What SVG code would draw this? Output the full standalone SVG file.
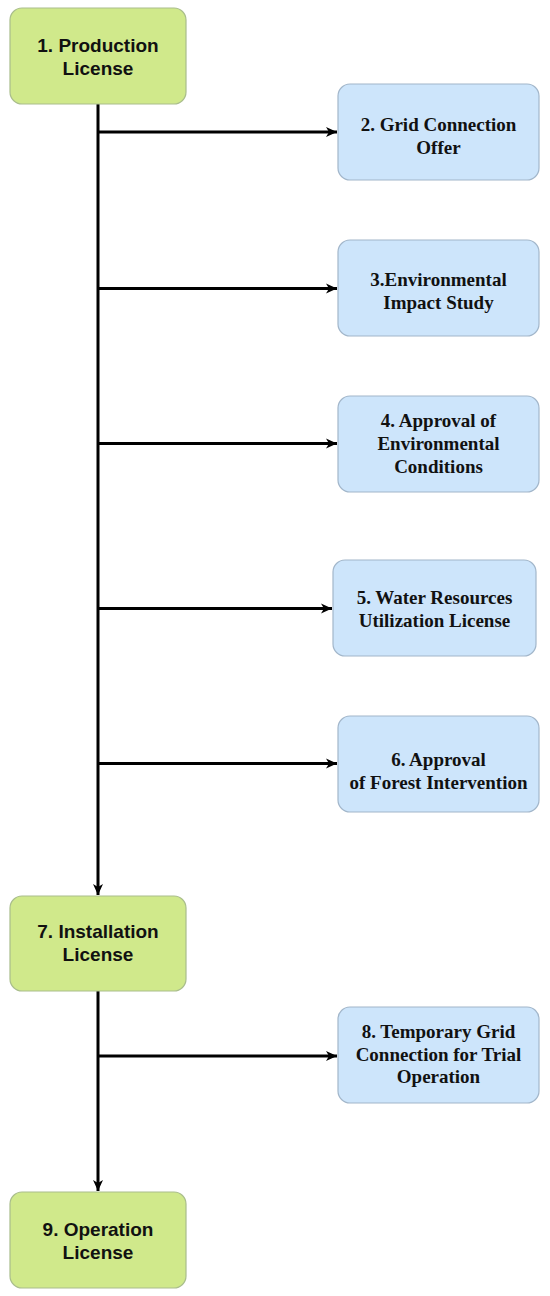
<svg xmlns="http://www.w3.org/2000/svg" width="550" height="1296" viewBox="0 0 550 1296">
<style>
.g rect{fill:#d0e98b;stroke:#a9bd8c;stroke-width:1.2}
.b rect{fill:#cde5fb;stroke:#a2b6ca;stroke-width:1.2}
.g text{font-family:"Liberation Sans",Arial,sans-serif;font-weight:bold;font-size:19px;fill:#111;text-anchor:middle}
.b text{font-family:"Liberation Serif","Times New Roman",serif;font-weight:bold;font-size:19px;fill:#111;text-anchor:middle}
.c line{stroke:#000;stroke-width:3}
</style>
<defs>
<marker id="ah" markerUnits="userSpaceOnUse" markerWidth="12" markerHeight="12" viewBox="0 0 12 12" refX="11" refY="6" orient="auto">
<path d="M0,1 L11,6 L0,11 L3,6 Z" fill="#000"/>
</marker>
</defs>
<rect width="550" height="1296" fill="#fff"/>
<g id="connectors" class="c">
<line x1="98" y1="104" x2="98" y2="895" marker-end="url(#ah)"/>
<line x1="98" y1="132" x2="337" y2="132" marker-end="url(#ah)"/>
<line x1="98" y1="288.5" x2="337" y2="288.5" marker-end="url(#ah)"/>
<line x1="98" y1="443.5" x2="337" y2="443.5" marker-end="url(#ah)"/>
<line x1="98" y1="608.5" x2="332" y2="608.5" marker-end="url(#ah)"/>
<line x1="98" y1="763.5" x2="337" y2="763.5" marker-end="url(#ah)"/>
<line x1="98" y1="991" x2="98" y2="1191" marker-end="url(#ah)"/>
<line x1="98" y1="1056" x2="337" y2="1056" marker-end="url(#ah)"/>
</g>
<g id="n1" class="g"><rect x="10" y="8" width="176" height="96" rx="12"/><text x="98" y="52">1. Production</text><text x="98" y="75">License</text></g>
<g id="n2" class="b"><rect x="338" y="84" width="201" height="96" rx="12"/><text x="438.5" y="131">2. Grid Connection</text><text x="438.5" y="154">Offer</text></g>
<g id="n3" class="b"><rect x="338" y="240" width="201" height="96" rx="12"/><text x="438.5" y="286">3.Environmental</text><text x="438.5" y="309">Impact Study</text></g>
<g id="n4" class="b"><rect x="338" y="396" width="201" height="96" rx="12"/><text x="438.5" y="427">4. Approval of</text><text x="438.5" y="450">Environmental</text><text x="438.5" y="473">Conditions</text></g>
<g id="n5" class="b"><rect x="333" y="560" width="203" height="96" rx="12"/><text x="434.5" y="604">5. Water Resources</text><text x="434.5" y="627">Utilization License</text></g>
<g id="n6" class="b"><rect x="338" y="716" width="201" height="96" rx="12"/><text x="438.5" y="766">6. Approval</text><text x="438.5" y="789">of Forest Intervention</text></g>
<g id="n7" class="g"><rect x="10" y="896" width="176" height="95" rx="12"/><text x="98" y="938">7. Installation</text><text x="98" y="961">License</text></g>
<g id="n8" class="b"><rect x="338" y="1007" width="201" height="96" rx="12"/><text x="438.5" y="1038">8. Temporary Grid</text><text x="438.5" y="1061">Connection for Trial</text><text x="438.5" y="1083">Operation</text></g>
<g id="n9" class="g"><rect x="10" y="1192" width="176" height="96" rx="12"/><text x="98" y="1236">9. Operation</text><text x="98" y="1259">License</text></g>
</svg>
